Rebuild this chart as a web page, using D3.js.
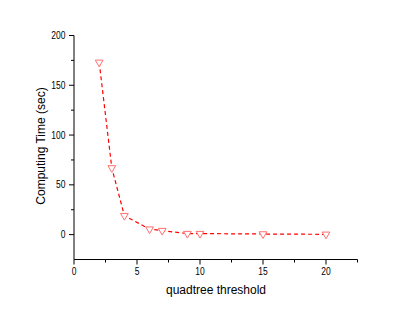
<!DOCTYPE html>
<html><head><meta charset="utf-8">
<script src="https://cdn.jsdelivr.net/npm/d3@7"></script>
<style>body{margin:0;background:#fff}svg{display:block}</style>
</head><body>
<svg id="c" width="415" height="312"></svg>
<script>
const thresholds = [2, 3, 4, 6, 7, 9, 10, 15, 20];
const times = [173, 67, 19, 5.5, 4, 1, 1, 0.6, 0.3];
const xTicks = [0, 5, 10, 15, 20];
const yTicks = [0, 50, 100, 150, 200];
const xLabel = "quadtree threshold";
const yLabel = "Computing Time (sec)";

const svg = d3.select("#c");
const x = d3.scaleLinear().domain([0, 22.5]).range([74, 357.5]);
const y = d3.scaleLinear().domain([-25, 200]).range([259.5, 35.5]);
const font = "Liberation Sans, Arial, sans-serif";

const xMinor = d3.range(0, 22.6, 2.5).filter(v => !xTicks.includes(v));
const yMinor = d3.range(-25, 201, 25).filter(v => !yTicks.includes(v) && v > -25);

const gx = svg.append("g").attr("transform", "translate(0,259.5)");
gx.append("line").attr("x1", 74).attr("x2", 357.5).attr("stroke", "#000").attr("stroke-width", 1);
gx.selectAll(".mt").data(xTicks).join("line").attr("x1", d => x(d)).attr("x2", d => x(d)).attr("y1", 0).attr("y2", 5).attr("stroke", "#000");
gx.selectAll(".mn").data(xMinor).join("line").attr("x1", d => x(d)).attr("x2", d => x(d)).attr("y1", 0).attr("y2", 3).attr("stroke", "#000");
gx.selectAll("text").data(xTicks).join("text")
  .attr("transform", d => `translate(${x(d)},15) scale(0.85,1)`).attr("text-anchor", "middle")
  .attr("font-family", font).attr("font-size", 10).text(d => d);

const gy = svg.append("g").attr("transform", "translate(74,0)");
gy.append("line").attr("y1", 35.5).attr("y2", 259.5).attr("stroke", "#000");
gy.selectAll(".mt").data(yTicks).join("line").attr("y1", d => y(d)).attr("y2", d => y(d)).attr("x1", 0).attr("x2", -5).attr("stroke", "#000");
gy.selectAll(".mn").data(yMinor).join("line").attr("y1", d => y(d)).attr("y2", d => y(d)).attr("x1", 0).attr("x2", -3).attr("stroke", "#000");
gy.selectAll("text").data(yTicks).join("text")
  .attr("transform", d => `translate(-8.5,${y(d) + 3.5}) scale(0.85,1)`).attr("text-anchor", "end")
  .attr("font-family", font).attr("font-size", 10).text(d => d);

svg.append("text").attr("x", 216).attr("y", 294).attr("text-anchor", "middle")
  .attr("font-family", font).attr("font-size", 12).text(xLabel);
svg.append("text").attr("transform", "translate(45,146) rotate(-90)").attr("text-anchor", "middle")
  .attr("font-family", font).attr("font-size", 12).text(yLabel);

const line = d3.line().x((d, i) => x(thresholds[i])).y(d => y(d));
svg.append("path").attr("d", line(times)).attr("fill", "none").attr("stroke", "#ff0000")
  .attr("stroke-width", 1.2).attr("stroke-dasharray", "4,3");

const tri = d3.symbol().type(d3.symbolTriangle).size(26);
svg.selectAll(".pt").data(times).join("path")
  .attr("d", tri)
  .attr("transform", (d, i) => `translate(${x(thresholds[i])},${y(d)}) rotate(180)`)
  .attr("fill", "#fff").attr("stroke", "#ff7070").attr("stroke-width", 1);
</script>
</body></html>
